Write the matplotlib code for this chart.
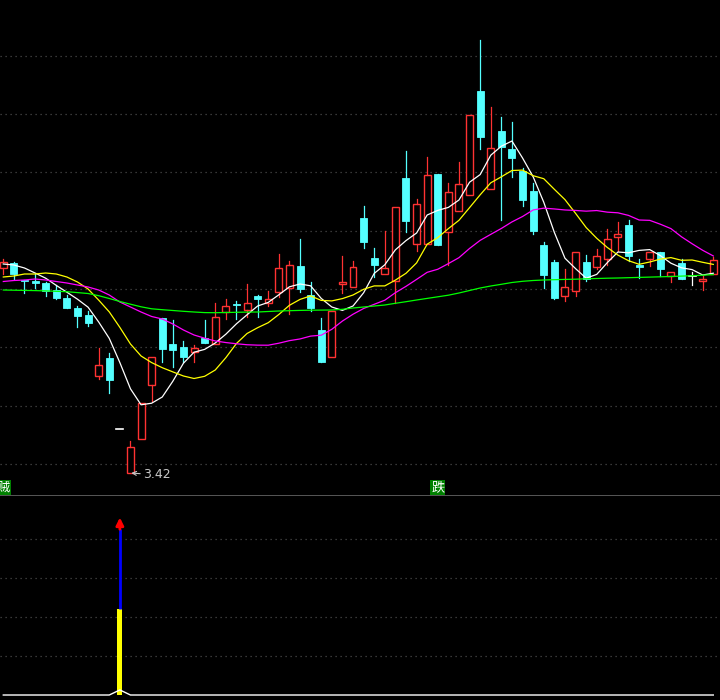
import numpy as np
import pandas as pd
import matplotlib
matplotlib.use("Agg")
import matplotlib.pyplot as plt
from matplotlib.patches import Rectangle

# ---------------- data ----------------
opens = [5.47, 5.52, 5.35, 5.34, 5.32, 5.25, 5.17, 5.07, 5.00, 4.39,
         4.57, 3.86, 3.42, 3.76, 4.30, 4.97, 4.71, 4.68, 4.63, 4.77,
         4.71, 5.03, 5.11, 5.05, 5.19, 5.12, 5.23, 5.27, 5.49, 5.20,
         4.85, 4.58, 5.31, 5.28, 5.97, 5.57, 5.41, 5.34, 6.37, 5.71,
         5.71, 6.41, 5.83, 6.04, 6.20, 7.24, 6.26, 6.84, 6.66, 6.44,
         6.24, 5.70, 5.53, 5.19, 5.24, 5.53, 5.48, 5.56, 5.78, 5.90,
         5.50, 5.56, 5.63, 5.39, 5.52, 5.39, 5.34, 5.41]
highs = [5.56, 5.53, 5.35, 5.41, 5.33, 5.30, 5.20, 5.09, 5.04, 4.67,
         4.62, 3.86, 3.74, 4.12, 4.58, 4.97, 4.95, 4.74, 4.70, 4.95,
         5.12, 5.16, 5.14, 5.31, 5.20, 5.24, 5.61, 5.54, 5.76, 5.33,
         4.97, 5.04, 5.59, 5.54, 6.09, 5.67, 5.84, 6.08, 6.64, 6.16,
         6.58, 6.41, 6.32, 6.53, 7.00, 7.75, 7.08, 6.98, 6.93, 6.47,
         6.32, 5.73, 5.55, 5.46, 5.63, 5.60, 5.66, 5.86, 5.93, 5.95,
         5.56, 5.63, 5.63, 5.43, 5.56, 5.43, 5.39, 5.58]
lows = [5.41, 5.36, 5.22, 5.27, 5.19, 5.16, 5.07, 4.88, 4.89, 4.36,
        4.22, 3.86, 3.42, 3.76, 4.14, 4.53, 4.48, 4.53, 4.53, 4.72,
        4.71, 4.96, 4.96, 4.98, 4.98, 5.09, 5.18, 5.01, 5.23, 5.04,
        4.53, 4.58, 5.22, 5.28, 5.67, 5.38, 5.41, 5.12, 5.83, 5.64,
        5.71, 5.70, 5.50, 6.04, 6.20, 6.66, 6.26, 5.95, 6.38, 6.09,
        5.81, 5.27, 5.16, 5.14, 5.19, 5.34, 5.46, 5.50, 5.64, 5.54,
        5.37, 5.49, 5.39, 5.33, 5.36, 5.30, 5.25, 5.41]
closes = [5.53, 5.41, 5.34, 5.32, 5.24, 5.17, 5.07, 4.99, 4.92, 4.50,
          4.35, 3.86, 3.68, 4.12, 4.58, 4.66, 4.65, 4.58, 4.67, 4.72,
          4.98, 5.09, 5.10, 5.12, 5.16, 5.16, 5.47, 5.50, 5.26, 5.07,
          4.53, 5.04, 5.33, 5.48, 5.73, 5.50, 5.47, 6.08, 5.94, 6.11,
          6.40, 5.70, 6.23, 6.31, 7.00, 6.78, 6.67, 6.68, 6.57, 6.15,
          5.84, 5.40, 5.17, 5.28, 5.63, 5.36, 5.59, 5.76, 5.81, 5.59,
          5.48, 5.63, 5.46, 5.43, 5.36, 5.39, 5.36, 5.55]

# moving-average values before enough bars are visible
ma5_head = [5.51, 5.50, 5.47, 5.42]
ma10_head = [5.38, 5.39, 5.41, 5.41, 5.42, 5.41, 5.38, 5.33, 5.26]
ma20_head = [5.335, 5.345, 5.35, 5.36, 5.35, 5.335, 5.32, 5.30, 5.28, 5.25,
             5.20, 5.13, 5.08, 5.03, 4.985, 4.96, 4.91, 4.85, 4.80]
ma60 = [5.250, 5.248, 5.246, 5.244, 5.241, 5.237, 5.233, 5.224, 5.215, 5.193,
        5.165, 5.135, 5.108, 5.082, 5.062, 5.053, 5.045, 5.037, 5.030, 5.024,
        5.023, 5.025, 5.027, 5.029, 5.030, 5.035, 5.040, 5.043, 5.046, 5.048,
        5.049, 5.050, 5.057, 5.070, 5.080, 5.090, 5.100, 5.117, 5.133, 5.150,
        5.166, 5.182, 5.198, 5.220, 5.245, 5.270, 5.290, 5.307, 5.325, 5.337,
        5.345, 5.350, 5.353, 5.356, 5.358, 5.362, 5.365, 5.368, 5.370, 5.373,
        5.376, 5.379, 5.382, 5.385, 5.389, 5.393, 5.398, 5.404]

grid_prices = [3.51, 4.09, 4.68, 5.26, 5.84, 6.43, 7.01, 7.59]
tag_labels = {0: "贼", 41: "跌"}
tag_price = 3.275

# lower indicator panel
n = len(closes)
sig_yellow = [0.0] * n
sig_blue = [0.0] * n
sig_arrow = [0.0] * n
osc_line = [0.0] * n
sig_yellow[11] = 2.2
sig_blue[11] = 4.25
sig_arrow[11] = 4.55
osc_line[11] = 0.13
lower_grid = [1, 2, 3, 4]

# ---------------- derived ----------------
c = pd.Series(closes)
ma5 = c.rolling(5).mean().to_numpy(); ma5[:4] = ma5_head
ma10 = c.rolling(10).mean().to_numpy(); ma10[:9] = ma10_head
ma20 = c.rolling(20).mean().to_numpy(); ma20[:19] = ma20_head

RED = "#ff3232"
CYAN = "#54ffff"
x = np.arange(n)

fig = plt.figure(figsize=(7.2, 7.0), dpi=100, facecolor="black")
ax = fig.add_axes([0, 1 - 495 / 700, 1, 495 / 700], facecolor="black")
ax2 = fig.add_axes([0, 0, 1, 205 / 700], facecolor="black", sharex=ax)

xl = (-3.3 / 10.597, (720 - 3.3) / 10.597)
ax.set_xlim(*xl)
ax.set_ylim(8.15 - 4.95, 8.15)

for gp in grid_prices:
    ax.axhline(gp, color="#4a4a4a", lw=0.9, ls=(0, (1, 3)), zorder=0)

bw = 0.66
for i in range(n):
    o, h, l, cl = opens[i], highs[i], lows[i], closes[i]
    if cl > o:
        ax.add_patch(Rectangle((i - bw / 2, o), bw, cl - o, facecolor="black",
                               edgecolor=RED, lw=1.0, zorder=3))
        if h > cl:
            ax.plot([i, i], [cl, h], color=RED, lw=0.9, zorder=3)
        if l < o:
            ax.plot([i, i], [l, o], color=RED, lw=0.9, zorder=3)
    elif cl < o:
        ax.plot([i, i], [l, h], color=CYAN, lw=0.9, zorder=3)
        ax.add_patch(Rectangle((i - bw / 2, cl), bw, o - cl, facecolor=CYAN,
                               edgecolor=CYAN, lw=0.6, zorder=4))
    else:
        ax.plot([i - bw / 2, i + bw / 2], [o, o], color="white", lw=1.2, zorder=3)
        if h > l:
            ax.plot([i, i], [l, h], color="white", lw=0.9, zorder=3)

ax.plot(x, ma5, color="white", lw=0.9, zorder=5)
ax.plot(x, ma10, color="#ffff00", lw=0.9, zorder=5)
ax.plot(x, ma20, color="#ff00ff", lw=0.9, zorder=5)
ax.plot(x, ma60, color="#00ff00", lw=0.9, zorder=5)

imin = int(np.argmin(lows))
ax.annotate(f"{lows[imin]:.2f}", xy=(imin + 0.08, lows[imin]),
            xytext=(imin + 1.18, lows[imin] - 0.02), color="#c8c8c8",
            fontsize=9, va="center", ha="left",
            arrowprops=dict(arrowstyle="->", color="#c8c8c8", lw=0.8,
                            shrinkA=0, shrinkB=0, mutation_scale=7), zorder=6)

for idx, t in tag_labels.items():
    ax.text(idx, tag_price, t, color="white", fontsize=9.5, ha="center",
            va="center", family=["Noto Sans CJK SC", "DejaVu Sans"],
            bbox=dict(boxstyle="square,pad=0.05", facecolor="#008000",
                      edgecolor="none"), clip_on=True, zorder=6)

for ax_ in (ax, ax2):
    ax_.set_xticks([]); ax_.set_yticks([])
    for s in ax_.spines.values():
        s.set_visible(False)

# lower panel
ax2.set_ylim(-0.128, 5.128)
for g in lower_grid:
    ax2.axhline(g, color="#4a4a4a", lw=0.9, ls=(0, (1, 3)), zorder=0)
ax2.axhline(5.128, color="#666666", lw=1.2, zorder=1)
ax2.bar(x, sig_yellow, width=0.47, color="#ffff00", zorder=3)
for i in range(n):
    if sig_blue[i] > sig_yellow[i]:
        ax2.plot([i, i], [sig_yellow[i], sig_blue[i]], color="#0000ff",
                 lw=2.0, solid_capstyle="butt", zorder=3)
    if sig_arrow[i] > sig_blue[i]:
        ax2.annotate("", xy=(i, sig_arrow[i]), xytext=(i, sig_blue[i]),
                     arrowprops=dict(arrowstyle="-|>", color="red", lw=2.0,
                                     mutation_scale=11, shrinkA=0, shrinkB=0),
                     zorder=4)
ax2.plot(x, osc_line, color="white", lw=1.0, zorder=4)
ax2.set_xlim(*xl)

fig.savefig("out.png", dpi=100, facecolor="black")
